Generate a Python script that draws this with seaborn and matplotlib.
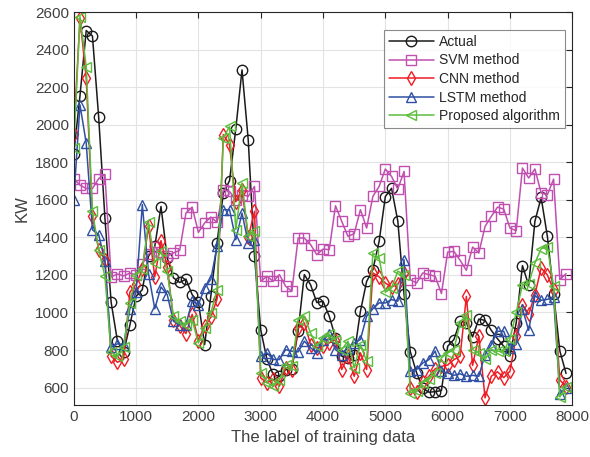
import numpy as np
import pandas as pd
import matplotlib
matplotlib.use("Agg")
import matplotlib.pyplot as plt
import seaborn as sns

x_labels = list(range(0, 8000, 100))

actual = [1846, 2155, 2503, 2474, 2041, 1505, 1054, 850, 787, 932,
          1086, 1122, 1300, 1352, 1565, 1290, 1185, 1160, 1178, 1095,
          1055, 829, 1088, 1373, 1635, 1703, 1978, 2293, 1919, 1302,
          908, 750, 670, 660, 696, 700, 900, 1202, 1148, 1053,
          1060, 980, 866, 767, 760, 776, 1006, 1166, 1228, 1379,
          1618, 1662, 1487, 1097, 792, 680, 595, 575, 578, 584,
          820, 856, 953, 945, 870, 965, 958, 905, 860, 820,
          770, 945, 1250, 1145, 1486, 1613, 1406, 1100, 795, 675]

svm = [1714, 1679, 1661, 1661, 1714, 1736, 1190, 1205, 1195, 1210,
       1200, 1260, 1310, 1350, 1320, 1300, 1318, 1331, 1530, 1562,
       1427, 1477, 1509, 1480, 1654, 1645, 1601, 1628, 1619, 1672,
       1166, 1193, 1166, 1202, 1140, 1113, 1397, 1397, 1362, 1308,
       1338, 1335, 1569, 1486, 1406, 1420, 1548, 1450, 1619, 1672,
       1765, 1725, 1658, 1752, 1175, 1157, 1211, 1202, 1193, 1101,
       1322, 1326, 1278, 1225, 1349, 1317, 1459, 1512, 1562, 1551,
       1450, 1436, 1770, 1717, 1765, 1637, 1628, 1711, 1175, 1207]

cnn = [1952, 2569, 2249, 1512, 1335, 1282, 767, 735, 750, 1108,
       1150, 1230, 1459, 1190, 1383, 1245, 960, 930, 888, 990,
       850, 930, 975, 1072, 1948, 1894, 1590, 1654, 1400, 1539,
       651, 626, 643, 607, 705, 696, 918, 945, 829, 812,
       820, 838, 856, 696, 767, 660, 785, 696, 1211, 1190,
       1157, 1136, 1150, 1211, 598, 578, 632, 660, 700, 713,
       720, 749, 767, 1086, 718, 874, 545, 660, 684, 653,
       687, 875, 1042, 990, 1095, 1237, 1200, 1120, 640, 605]

lstm = [1601, 2107, 1903, 1441, 1415, 1273, 815, 833, 829, 1020,
        1108, 1575, 1206, 1020, 1136, 1095, 953, 936, 936, 1060,
        1042, 1131, 1177, 1353, 1548, 1548, 1388, 1530, 1371, 1388,
        767, 785, 750, 749, 802, 794, 790, 847, 812, 785,
        856, 883, 802, 776, 812, 838, 856, 980, 1020, 1051,
        1051, 1069, 1060, 1282, 687, 696, 731, 749, 794, 687,
        678, 665, 673, 660, 665, 660, 776, 829, 900, 900,
        810, 830, 1020, 905, 1090, 1065, 1070, 1080, 565, 595]

proposed = [1877, 2577, 2311, 1539, 1335, 1193, 788, 767, 815, 1050,
            1200, 1230, 1480, 1264, 1326, 1220, 980, 953, 936, 960,
            838, 920, 998, 1122, 1930, 1992, 1442, 1690, 1406, 1432,
            678, 626, 607, 640, 722, 713, 962, 980, 891, 820,
            865, 883, 856, 802, 847, 705, 829, 740, 1317, 1291,
            1108, 1131, 1220, 1202, 572, 580, 626, 643, 678, 758,
            785, 802, 945, 989, 802, 785, 750, 802, 794, 794,
            860, 1000, 1149, 1154, 1264, 1340, 1350, 1140, 550, 605]

series_names = ["Actual", "SVM method", "CNN method", "LSTM method", "Proposed algorithm"]
series_values = [actual, svm, cnn, lstm, proposed]

df = pd.concat([pd.DataFrame({"x": x_labels, "KW": v, "series": n})
                for n, v in zip(series_names, series_values)], ignore_index=True)

colors = {"Actual": "#1a1a1a", "SVM method": "#c04fb0", "CNN method": "#ee1c24",
          "LSTM method": "#2e4fa3", "Proposed algorithm": "#5cbd3c"}
markers = {"Actual": "o", "SVM method": "s", "CNN method": "d",
           "LSTM method": "^", "Proposed algorithm": "<"}
msizes = {"Actual": 7.5, "SVM method": 6.5, "CNN method": 7.5,
          "LSTM method": 7.5, "Proposed algorithm": 7.5}

sns.set_style("white")
plt.rcParams['font.family'] = ['Liberation Sans', 'DejaVu Sans']

fig = plt.figure(figsize=(5.9, 4.57), dpi=100)
ax = fig.add_axes([0.125, 0.113, 0.845, 0.86])

for name in series_names:
    sub = df[df["series"] == name]
    c = colors[name]
    sns.lineplot(data=sub, x="x", y="KW", ax=ax, color=c, linewidth=1.1,
                 marker=markers[name], markersize=msizes[name],
                 markerfacecolor="none", markeredgecolor=c, markeredgewidth=1.0,
                 label=name, estimator=None, sort=False)

ax.set_xlim(0, 8000)
ax.set_ylim(505, 2600)
ax.set_xticks(range(0, 8001, 1000))
ax.set_yticks(range(600, 2601, 200))
ax.grid(True, color="#e3e3e3", linewidth=0.8)
ax.set_axisbelow(True)
ax.tick_params(direction="in", top=True, right=True, length=4, width=0.8,
               colors="#262626", labelsize=11, labelcolor="#404040")
for s in ax.spines.values():
    s.set_color("#262626")
    s.set_linewidth(0.8)
ax.set_xlabel("The label of training data", fontsize=12, color="#404040")
ax.set_ylabel("KW", fontsize=12, color="#404040")

leg = ax.legend(loc="upper right", bbox_to_anchor=(0.985, 0.955), fontsize=10,
                frameon=True, fancybox=False, edgecolor="#6e6e6e",
                borderpad=0.35, labelspacing=0.33, handlelength=3.2,
                handletextpad=0.4, borderaxespad=0.0)
leg.get_frame().set_linewidth(0.8)
for t in leg.get_texts():
    t.set_color("#262626")

fig.savefig("out.png", dpi=100)
